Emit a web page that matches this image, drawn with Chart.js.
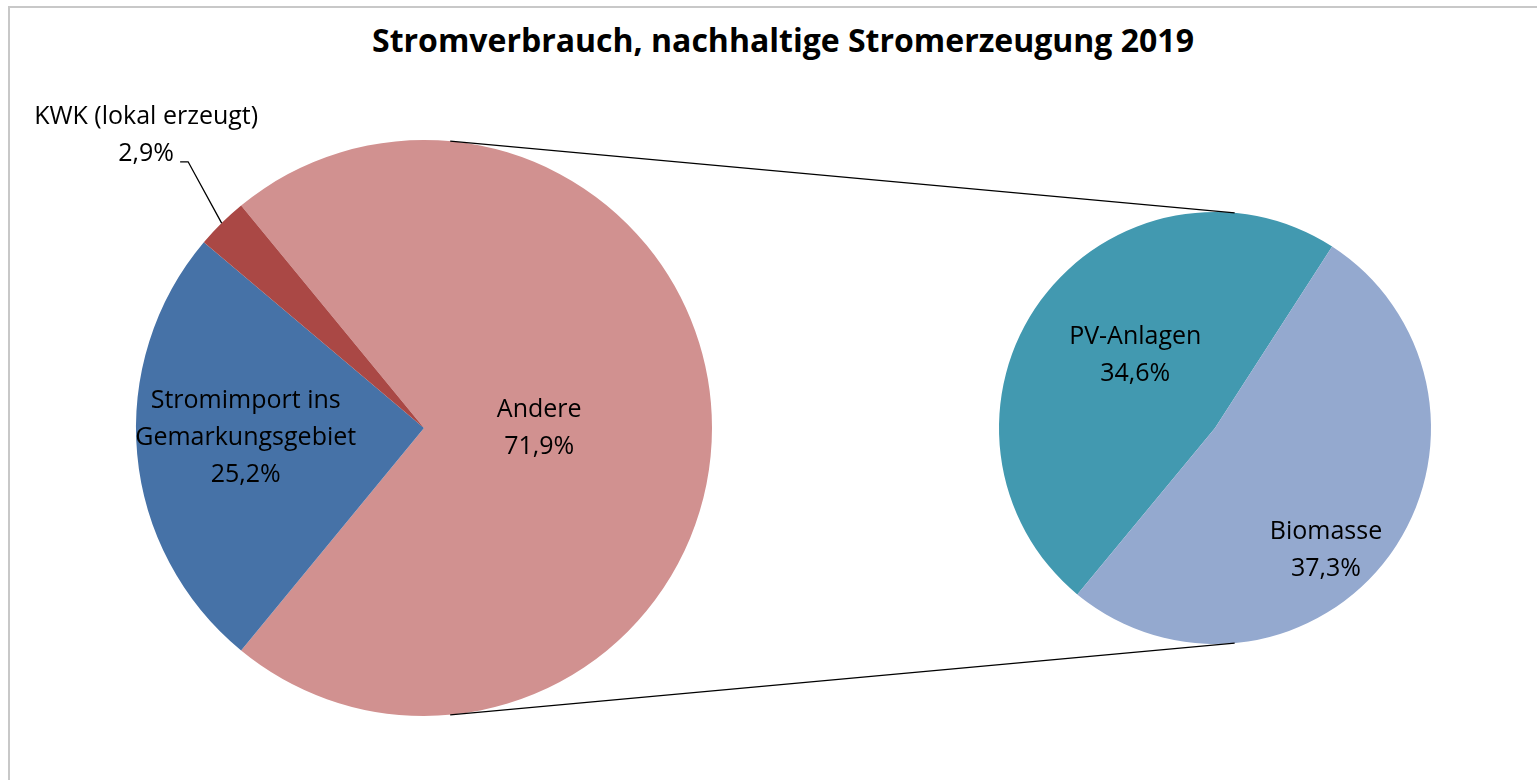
<!DOCTYPE html>
<html>
<head>
<meta charset="utf-8">
<script src="https://cdn.jsdelivr.net/npm/chart.js@4/dist/chart.umd.min.js"></script>
<style>
  body { margin: 0; background: #fff; }
  #wrap { position: relative; width: 1537px; height: 780px; overflow: hidden; }
  #frame { position: absolute; left: 8px; top: 6px; width: 1600px; height: 900px; border: 2px solid #c8c8c8; }
  #title { position: absolute; left: 8px; top: 24px; width: 1550px; text-align: center;
           font: bold 32px "Open Sans"; line-height: 32px; color: #000; }
  canvas { position: absolute; left: 0; top: 0; }
</style>
</head>
<body>
<div id="wrap">
  <div id="frame"></div>
  <div id="title">Stromverbrauch, nachhaltige Stromerzeugung 2019</div>
  <canvas id="mainPie" width="1537" height="780"></canvas>
  <canvas id="subPie" width="1537" height="780"></canvas>
</div>
<script>
// main pie
const mainLabels = ["Andere", "Stromimport ins Gemarkungsgebiet", "KWK (lokal erzeugt)"];
const mainLines = [["Andere"], ["Stromimport ins", "Gemarkungsgebiet"], ["KWK (lokal erzeugt)"]];
const mainValues = [71.9, 25.2, 2.9];
const mainColors = ["#d19190", "#4672a7", "#aa4845"];

// breakdown of "Andere"
const subLabels = ["PV-Anlagen", "Biomasse"];
const subLines = [["PV-Anlagen"], ["Biomasse"]];
const subValues = [34.6, 37.3];
const subColors = ["#4299b0", "#94a9cf"];

const fmt = (v) => v.toFixed(1).replace(".", ",") + "%";
const deg = Math.PI / 180;

// draws the data labels inside / next to the slices
const sliceLabels = {
  id: "sliceLabels",
  afterDatasetsDraw(chart, args, opts) {
    const ctx = chart.ctx;
    const meta = chart.getDatasetMeta(0);
    const data = chart.data.datasets[0].data;
    ctx.save();
    ctx.font = "25px 'Open Sans'";
    ctx.fillStyle = "#000";
    ctx.textAlign = "center";
    ctx.textBaseline = "middle";
    meta.data.forEach((arc, i) => {
      const p = opts.place[i];
      const mid = (arc.startAngle + arc.endAngle) / 2;
      const a = mid + p.da * deg;
      let cx = arc.x + Math.cos(a) * arc.outerRadius * p.r;
      let cy = arc.y + Math.sin(a) * arc.outerRadius * p.r;
      if (p.leader) {
        ctx.strokeStyle = "#000";
        ctx.lineWidth = 1.3;
        ctx.beginPath();
        ctx.moveTo(arc.x + Math.cos(mid) * arc.outerRadius, arc.y + Math.sin(mid) * arc.outerRadius);
        ctx.lineTo(cx, cy);
        ctx.lineTo(cx - p.leader, cy);
        ctx.stroke();
        cx += p.dx;
        cy += p.dy;
      }
      const lines = opts.lines[i].concat([fmt(data[i])]);
      const lh = 37;
      lines.forEach((t, k) => ctx.fillText(t, cx, cy + (k - (lines.length - 1) / 2) * lh));
    });
    ctx.restore();
  }
};

const baseOpts = (pad, rotation, place, lines) => ({
  responsive: false,
  animation: false,
  events: [],
  rotation: rotation,
  layout: { padding: pad },
  plugins: {
    legend: { display: false },
    tooltip: { enabled: false },
    sliceLabels: { place: place, lines: lines }
  }
});

const mainTotal = mainValues.reduce((a, b) => a + b, 0);
const mainChart = new Chart(document.getElementById("mainPie"), {
  type: "pie",
  data: {
    labels: mainLabels,
    datasets: [{ data: mainValues, backgroundColor: mainColors, borderWidth: 0, hoverOffset: 0 }]
  },
  options: baseOpts(
    { left: 136, right: 825, top: 140, bottom: 64 },
    90 - (mainValues[0] / mainTotal) * 180,
    [{ r: 0.40, da: 0 }, { r: 0.62, da: 2 }, { r: 1.235, da: 3.1, leader: 8, dx: -42, dy: -26 }],
    mainLines
  ),
  plugins: [sliceLabels]
});

// connector lines between the two pies (outer common tangents)
const connectors = {
  id: "connectors",
  afterDatasetsDraw(chart) {
    const a = mainChart.getDatasetMeta(0).data[0];
    const b = chart.getDatasetMeta(0).data[0];
    const d = b.x - a.x;
    const al = Math.acos((a.outerRadius - b.outerRadius) / d);
    const ctx = chart.ctx;
    ctx.save();
    ctx.strokeStyle = "#000";
    ctx.lineWidth = 1.3;
    [-1, 1].forEach((s) => {
      ctx.beginPath();
      ctx.moveTo(a.x + Math.cos(al) * a.outerRadius, a.y + s * Math.sin(al) * a.outerRadius);
      ctx.lineTo(b.x + Math.cos(al) * b.outerRadius, b.y + s * Math.sin(al) * b.outerRadius);
      ctx.stroke();
    });
    ctx.restore();
  }
};

new Chart(document.getElementById("subPie"), {
  type: "pie",
  data: {
    labels: subLabels,
    datasets: [{ data: subValues, backgroundColor: subColors, borderWidth: 0, hoverOffset: 0 }]
  },
  options: baseOpts(
    { left: 999, right: 106, top: 212, bottom: 136 },
    219.6,
    [{ r: 0.5, da: 6.2 }, { r: 0.764, da: 11.5 }],
    subLines
  ),
  plugins: [sliceLabels, connectors]
});
</script>
</body>
</html>
